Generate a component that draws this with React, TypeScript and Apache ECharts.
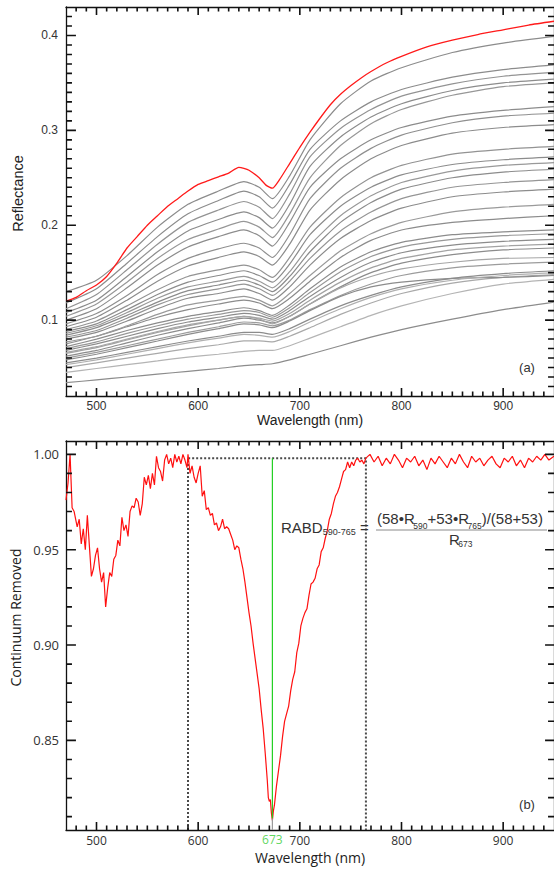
import React, { useEffect, useRef } from "react";
import * as echarts from "echarts";

// ---------- Panel (a): reflectance spectra ----------
const WAVELENGTHS = [470, 500, 530, 560, 590, 620, 645, 660, 673, 690, 710, 740, 770, 800, 850, 900, 950];

const RED_WAVELENGTHS = [470, 480, 490, 500, 510, 520, 530, 540, 550, 560, 570, 580, 590, 600, 610, 620, 630, 640, 645, 650, 660, 667, 673, 680, 690, 700, 710, 720, 730, 740, 750, 760, 770, 785, 800, 825, 850, 875, 900, 925, 950];
const RED_SPECTRUM = [0.120, 0.124, 0.131, 0.137, 0.146, 0.160, 0.176, 0.188, 0.200, 0.210, 0.220, 0.228, 0.236, 0.243, 0.247, 0.251, 0.255, 0.261, 0.260, 0.258, 0.250, 0.242, 0.239, 0.248, 0.265, 0.282, 0.298, 0.313, 0.327, 0.338, 0.347, 0.355, 0.362, 0.371, 0.378, 0.388, 0.395, 0.401, 0.406, 0.411, 0.415];

const UPPER_SPECTRA = [
  [0.130, 0.142, 0.168, 0.198, 0.222, 0.236, 0.246, 0.240, 0.228, 0.252, 0.290, 0.328, 0.352, 0.366, 0.382, 0.392, 0.399],
  [0.118, 0.133, 0.160, 0.188, 0.212, 0.226, 0.236, 0.230, 0.218, 0.243, 0.280, 0.310, 0.330, 0.343, 0.356, 0.364, 0.369],
  [0.112, 0.127, 0.153, 0.180, 0.203, 0.216, 0.225, 0.219, 0.207, 0.233, 0.272, 0.302, 0.322, 0.336, 0.349, 0.357, 0.361],
  [0.108, 0.121, 0.146, 0.172, 0.194, 0.206, 0.214, 0.208, 0.197, 0.222, 0.262, 0.293, 0.314, 0.328, 0.342, 0.350, 0.354],
  [0.104, 0.117, 0.140, 0.165, 0.185, 0.196, 0.204, 0.198, 0.187, 0.212, 0.250, 0.284, 0.307, 0.322, 0.337, 0.346, 0.350],
  [0.100, 0.112, 0.134, 0.158, 0.177, 0.188, 0.195, 0.189, 0.178, 0.203, 0.240, 0.270, 0.290, 0.303, 0.315, 0.321, 0.325],
  [0.096, 0.107, 0.126, 0.148, 0.165, 0.175, 0.181, 0.176, 0.166, 0.190, 0.228, 0.260, 0.281, 0.295, 0.308, 0.315, 0.318],
  [0.093, 0.103, 0.121, 0.141, 0.157, 0.166, 0.172, 0.167, 0.158, 0.180, 0.216, 0.248, 0.270, 0.284, 0.297, 0.303, 0.306],
  [0.090, 0.099, 0.115, 0.132, 0.146, 0.153, 0.158, 0.153, 0.145, 0.166, 0.198, 0.229, 0.250, 0.263, 0.275, 0.280, 0.283],
  [0.088, 0.096, 0.111, 0.127, 0.140, 0.147, 0.152, 0.147, 0.140, 0.159, 0.190, 0.220, 0.240, 0.253, 0.264, 0.269, 0.272],
  [0.086, 0.094, 0.108, 0.123, 0.135, 0.141, 0.146, 0.141, 0.134, 0.151, 0.179, 0.210, 0.231, 0.245, 0.257, 0.263, 0.266],
  [0.084, 0.092, 0.105, 0.119, 0.131, 0.137, 0.142, 0.137, 0.130, 0.146, 0.172, 0.203, 0.224, 0.238, 0.250, 0.256, 0.259],
  [0.082, 0.089, 0.102, 0.116, 0.127, 0.133, 0.138, 0.133, 0.126, 0.141, 0.165, 0.194, 0.214, 0.228, 0.240, 0.245, 0.248],
  [0.080, 0.087, 0.099, 0.112, 0.123, 0.128, 0.133, 0.128, 0.121, 0.135, 0.158, 0.186, 0.205, 0.218, 0.230, 0.235, 0.238],
  [0.077, 0.083, 0.094, 0.106, 0.116, 0.121, 0.125, 0.121, 0.115, 0.128, 0.147, 0.173, 0.191, 0.203, 0.214, 0.219, 0.222],
];

const LOWER_SPECTRA = [
  [0.034, 0.037, 0.040, 0.043, 0.046, 0.049, 0.052, 0.053, 0.054, 0.058, 0.064, 0.073, 0.082, 0.090, 0.101, 0.111, 0.119],
  [0.045, 0.049, 0.053, 0.057, 0.061, 0.064, 0.067, 0.068, 0.068, 0.073, 0.081, 0.093, 0.105, 0.115, 0.128, 0.138, 0.143],
  [0.050, 0.055, 0.060, 0.065, 0.070, 0.074, 0.078, 0.078, 0.077, 0.083, 0.092, 0.106, 0.118, 0.128, 0.139, 0.145, 0.148],
  [0.055, 0.060, 0.066, 0.072, 0.078, 0.083, 0.087, 0.087, 0.085, 0.091, 0.101, 0.115, 0.126, 0.135, 0.144, 0.149, 0.152],
  [0.060, 0.066, 0.073, 0.080, 0.087, 0.093, 0.098, 0.097, 0.094, 0.100, 0.111, 0.126, 0.138, 0.147, 0.155, 0.159, 0.161],
  [0.062, 0.068, 0.076, 0.084, 0.091, 0.097, 0.102, 0.100, 0.097, 0.104, 0.117, 0.135, 0.150, 0.160, 0.169, 0.174, 0.176],
  [0.065, 0.071, 0.079, 0.087, 0.094, 0.100, 0.104, 0.102, 0.099, 0.107, 0.121, 0.140, 0.155, 0.165, 0.174, 0.178, 0.180],
  [0.068, 0.075, 0.083, 0.091, 0.098, 0.103, 0.107, 0.105, 0.101, 0.110, 0.125, 0.145, 0.161, 0.171, 0.179, 0.183, 0.185],
  [0.070, 0.077, 0.086, 0.094, 0.101, 0.106, 0.110, 0.108, 0.103, 0.113, 0.129, 0.151, 0.167, 0.177, 0.185, 0.189, 0.191],
  [0.072, 0.080, 0.089, 0.097, 0.104, 0.109, 0.113, 0.110, 0.105, 0.116, 0.133, 0.156, 0.172, 0.182, 0.190, 0.193, 0.195],
  [0.058, 0.064, 0.071, 0.078, 0.085, 0.091, 0.096, 0.095, 0.092, 0.099, 0.110, 0.125, 0.135, 0.140, 0.144, 0.145, 0.147],
  [0.075, 0.083, 0.093, 0.103, 0.111, 0.117, 0.121, 0.118, 0.112, 0.123, 0.141, 0.166, 0.184, 0.195, 0.203, 0.207, 0.210],
  [0.066, 0.072, 0.080, 0.088, 0.095, 0.100, 0.104, 0.101, 0.096, 0.104, 0.117, 0.134, 0.146, 0.154, 0.161, 0.165, 0.166],
  [0.053, 0.058, 0.064, 0.070, 0.076, 0.081, 0.085, 0.084, 0.082, 0.088, 0.098, 0.112, 0.124, 0.133, 0.142, 0.147, 0.150],
];

const UPPER_SHADES = ["#8c8c8c", "#8c8c8c", "#939393", "#8c8c8c", "#979797", "#8c8c8c", "#8f8f8f", "#8c8c8c", "#939393", "#8c8c8c", "#999999", "#8c8c8c", "#959595", "#8c8c8c", "#9a9a9a"];
const LOWER_SHADES = ["#8c8c8c", "#b4b4b4", "#a9a9a9", "#8c8c8c", "#9c9c9c", "#8c8c8c", "#a3a3a3", "#8c8c8c", "#989898", "#8c8c8c", "#8c8c8c", "#8c8c8c", "#a6a6a6", "#b0b0b0"];

// ---------- Panel (b): continuum removed ----------
const CR_WAVELENGTHS = [
  470, 472, 474, 476, 478, 481, 483, 485, 487, 489, 491, 493, 495, 497, 499, 501, 503, 505, 507, 509,
  511, 513, 515, 517, 519, 521, 523, 525, 527, 529, 531, 533, 535, 537, 539, 541, 543, 545, 547, 549,
  551, 553, 555, 557, 559, 561, 563, 565, 567, 569, 571, 573, 575, 577, 579, 581, 583, 585, 587, 589,
  590, 592, 594, 596, 598, 600, 602, 604, 606, 608, 610, 612, 614, 616, 618, 620, 622, 624, 626, 628,
  630, 632, 634, 636, 638, 640, 642, 644, 646, 648, 650, 652, 654, 656, 658, 660, 662, 664, 666, 668,
  669, 670, 671, 672, 673, 674, 675, 677, 679, 681, 683, 685, 687, 689, 691, 693, 695, 697, 699, 701,
  703, 705, 707, 709, 711, 713, 715, 717, 719, 721, 723, 725, 727, 729, 731, 733, 735, 737, 739, 741,
  743, 745, 747, 749, 751, 753, 755, 757, 759, 761, 763, 765, 769, 773, 777, 781, 785, 789, 793, 797,
  801, 805, 809, 813, 817, 821, 825, 829, 833, 837, 841, 845, 849, 853, 857, 861, 865, 869, 873, 877,
  881, 885, 889, 893, 897, 901, 905, 909, 913, 917, 921, 925, 929, 933, 937, 941, 945, 950,
];
const CR_VALUES = [
  0.976, 0.985, 1.000, 0.972, 0.970, 0.962, 0.966, 0.953, 0.961, 0.950, 0.968, 0.952, 0.936, 0.940, 0.947, 0.951, 0.940, 0.933, 0.938, 0.920,
  0.930, 0.938, 0.936, 0.945, 0.947, 0.955, 0.952, 0.967, 0.960, 0.963, 0.957, 0.970, 0.973, 0.972, 0.977, 0.975, 0.968, 0.974, 0.988, 0.984,
  0.989, 0.982, 0.990, 0.984, 0.999, 0.993, 0.991, 0.986, 0.997, 1.000, 0.995, 0.998, 0.993, 1.000, 0.996, 0.999, 0.995, 1.000, 0.997, 0.993,
  1.000, 0.990, 0.994, 0.988, 0.985, 0.990, 0.994, 0.978, 0.981, 0.971, 0.972, 0.968, 0.969, 0.963, 0.964, 0.960, 0.962, 0.966, 0.961, 0.962,
  0.961, 0.958, 0.955, 0.950, 0.952, 0.951, 0.945, 0.940, 0.933, 0.925, 0.917, 0.910, 0.901, 0.893, 0.885, 0.877, 0.866, 0.856, 0.843, 0.829,
  0.820, 0.818, 0.819, 0.812, 0.808, 0.813, 0.816, 0.826, 0.834, 0.842, 0.852, 0.860, 0.864, 0.868, 0.876, 0.882, 0.886, 0.896, 0.901, 0.910,
  0.914, 0.917, 0.919, 0.926, 0.932, 0.933, 0.935, 0.940, 0.942, 0.949, 0.951, 0.956, 0.960, 0.966, 0.969, 0.974, 0.978, 0.980, 0.983, 0.987,
  0.991, 0.992, 0.996, 0.993, 0.996, 0.994, 0.997, 0.998, 0.996, 0.997, 0.995, 0.998, 1.000, 0.996, 0.999, 0.994, 0.998, 0.995, 1.000, 0.997,
  0.993, 0.998, 0.996, 0.999, 0.994, 0.997, 0.992, 0.998, 0.995, 0.999, 0.996, 0.993, 0.998, 0.995, 1.000, 0.996, 0.993, 0.999, 0.996, 0.998,
  0.994, 0.997, 0.999, 0.995, 0.993, 0.998, 0.996, 0.999, 0.994, 0.997, 0.993, 0.998, 0.996, 0.999, 0.997, 1.000, 0.997, 0.999,
];

const BAND_LEFT = 590;
const BAND_CENTER = 673;
const BAND_RIGHT = 765;
const CONTINUUM_LEVEL = 0.998;
const BAND_DEPTH_VALUE = 0.809;

// ---------- Axes / ticks ----------
const X_MIN = 470;
const X_MAX = 950;
const X_MAJOR = [500, 600, 700, 800, 900];
const X_MINOR = [480, 490, 510, 520, 530, 540, 550, 560, 570, 580, 590, 610, 620, 630, 640, 650, 660, 670, 680, 690, 710, 720, 730, 740, 750, 760, 770, 780, 790, 810, 820, 830, 840, 850, 860, 870, 880, 890, 910, 920, 930, 940];
const TOP_Y_MIN = 0.02;
const TOP_Y_MAX = 0.43;
const TOP_Y_MAJOR = [0.1, 0.2, 0.3, 0.4];
const TOP_Y_MINOR = [0.03, 0.04, 0.05, 0.06, 0.07, 0.08, 0.09, 0.11, 0.12, 0.13, 0.14, 0.15, 0.16, 0.17, 0.18, 0.19, 0.21, 0.22, 0.23, 0.24, 0.25, 0.26, 0.27, 0.28, 0.29, 0.31, 0.32, 0.33, 0.34, 0.35, 0.36, 0.37, 0.38, 0.39, 0.41, 0.42];
const BOT_Y_MIN = 0.803;
const BOT_Y_MAX = 1.007;
const BOT_Y_MAJOR = [0.85, 0.9, 0.95, 1.0];
const BOT_Y_MINOR = [0.81, 0.82, 0.83, 0.84, 0.86, 0.87, 0.88, 0.89, 0.91, 0.92, 0.93, 0.94, 0.96, 0.97, 0.98, 0.99];

const AXIS_COLOR = "#111111";
const FONT_A = "Liberation Sans, Arial, sans-serif";
const FONT_B = "Open Sans, sans-serif";

// grid boxes (layout only)
const GRID_LEFT = 66;
const GRID_RIGHT = -3;
const GRID_TOPS = [7, 441];
const GRID_HEIGHT = 389;
const CHART_W = 554;
const GRID_WIDTH = CHART_W - GRID_LEFT - GRID_RIGHT;

function baseAxis(gridIndex: number, position: string, min: number, max: number): any {
  return {
    type: "value",
    gridIndex,
    position,
    min,
    max,
    axisLine: { show: true, onZero: false, lineStyle: { color: AXIS_COLOR, width: 1.3 } },
    axisTick: { show: false },
    axisLabel: { show: false },
    splitLine: { show: false },
  };
}

function measure(text: string, size: number, family: string): number {
  const ctx = document.createElement("canvas").getContext("2d");
  if (!ctx) return text.length * size * 0.55;
  ctx.font = `${size}px ${family}`;
  return ctx.measureText(text).width;
}

// tick segments (in data units) for one grid, separated by gaps
function tickSegments(yMin: number, yMax: number, yMajor: number[], yMinor: number[]): any[] {
  const dy = (yMax - yMin) / GRID_HEIGHT; // data units per px
  const dx = (X_MAX - X_MIN) / GRID_WIDTH;
  const out: any[] = [];
  const xs: [number, number][] = [...X_MAJOR.map((v) => [v, 8] as [number, number]), ...X_MINOR.map((v) => [v, 4.5] as [number, number])];
  xs.forEach(([v, len]) => {
    out.push([v, yMin], [v, yMin + len * dy], "-");
    out.push([v, yMax], [v, yMax - len * dy], "-");
  });
  const ys: [number, number, number][] = [
    ...yMajor.map((v) => [v, 10, 9] as [number, number, number]),
    ...yMinor.map((v) => [v, 6, 6] as [number, number, number]),
  ];
  ys.forEach(([v, lenL, lenR]) => {
    out.push([X_MIN, v], [X_MIN + lenL * dx, v], "-");
    out.push([X_MAX, v], [X_MAX - lenR * dx, v], "-");
  });
  return out;
}

export default function App() {
  const ref = useRef<HTMLDivElement>(null);

  useEffect(() => {
    if (!ref.current) return;
    const chart = echarts.init(ref.current, undefined, { renderer: "svg" });

    const xAxis: any[] = [
      {
        ...baseAxis(0, "bottom", X_MIN, X_MAX),
        axisLabel: { show: true, customValues: X_MAJOR, margin: 4, color: "#333", fontFamily: FONT_A, fontSize: 12 },
        name: "Wavelength (nm)",
        nameLocation: "middle",
        nameGap: 15,
        nameTextStyle: { color: "#222", fontFamily: FONT_A, fontSize: 14 },
      },
      baseAxis(0, "top", X_MIN, X_MAX),
      {
        ...baseAxis(1, "bottom", X_MIN, X_MAX),
        axisLabel: { show: true, customValues: X_MAJOR, margin: 4, color: "#333", fontFamily: FONT_B, fontSize: 12 },
        name: "Wavelength (nm)",
        nameLocation: "middle",
        nameGap: 20,
        nameTextStyle: { color: "#222", fontFamily: FONT_B, fontSize: 14 },
      },
      baseAxis(1, "top", X_MIN, X_MAX),
    ];

    const yAxis: any[] = [
      {
        ...baseAxis(0, "left", TOP_Y_MIN, TOP_Y_MAX),
        axisLabel: { show: true, customValues: TOP_Y_MAJOR, margin: 8, color: "#333", fontFamily: FONT_A, fontSize: 12, formatter: (v: number) => v.toFixed(1) },
        name: "Reflectance",
        nameLocation: "middle",
        nameGap: 41,
        nameTextStyle: { color: "#222", fontFamily: FONT_A, fontSize: 14.5, padding: [0, 0, 0, 16] },
      },
      baseAxis(0, "right", TOP_Y_MIN, TOP_Y_MAX),
      {
        ...baseAxis(1, "left", BOT_Y_MIN, BOT_Y_MAX),
        axisLabel: { show: true, customValues: BOT_Y_MAJOR, margin: 7, color: "#333", fontFamily: FONT_B, fontSize: 13, formatter: (v: number) => v.toFixed(2) },
        name: "Continuum Removed",
        nameLocation: "middle",
        nameGap: 39,
        nameTextStyle: { color: "#222", fontFamily: FONT_B, fontSize: 14, padding: [0, 0, 0, 36] },
      },
      baseAxis(1, "right", BOT_Y_MIN, BOT_Y_MAX),
    ];

    const spectrumSeries = (xs: number[], values: number[], color: string, width: number, z: number) => ({
      type: "line",
      xAxisIndex: 0,
      yAxisIndex: 0,
      showSymbol: false,
      symbol: "none",
      smooth: 0.2,
      z,
      lineStyle: { color, width },
      data: xs.map((w, i) => [w, values[i]]),
    });

    const tickSeries = (axisIndex: number, data: any[]) => ({
      type: "line",
      xAxisIndex: axisIndex,
      yAxisIndex: axisIndex,
      symbol: "none",
      showSymbol: false,
      connectNulls: false,
      clip: false,
      silent: true,
      z: 10,
      lineStyle: { color: AXIS_COLOR, width: 1.6, cap: "butt" },
      data,
    });

    const series: any[] = [
      ...LOWER_SPECTRA.map((s, i) => spectrumSeries(WAVELENGTHS, s, LOWER_SHADES[i], 1.2, 2)),
      ...UPPER_SPECTRA.map((s, i) => spectrumSeries(WAVELENGTHS, s, UPPER_SHADES[i], 1.2, 2)),
      spectrumSeries(RED_WAVELENGTHS, RED_SPECTRUM, "#ff1a1a", 1.3, 3),
      tickSeries(0, tickSegments(TOP_Y_MIN, TOP_Y_MAX, TOP_Y_MAJOR, TOP_Y_MINOR)),
      {
        type: "line",
        xAxisIndex: 2,
        yAxisIndex: 2,
        symbol: "none",
        z: 2,
        lineStyle: { color: "#4a4a4a", width: 2, type: [2, 2] },
        data: [
          [BAND_LEFT, BOT_Y_MIN],
          [BAND_LEFT, CONTINUUM_LEVEL],
          [BAND_RIGHT, CONTINUUM_LEVEL],
          [BAND_RIGHT, BOT_Y_MIN],
        ],
      },
      {
        type: "line",
        xAxisIndex: 2,
        yAxisIndex: 2,
        symbol: "none",
        z: 3,
        lineStyle: { color: "#ff1010", width: 1.2 },
        data: CR_WAVELENGTHS.map((w, i) => [w, CR_VALUES[i]]),
      },
      {
        type: "line",
        xAxisIndex: 2,
        yAxisIndex: 2,
        symbol: "none",
        z: 4,
        lineStyle: { color: "#22d022", width: 1.2 },
        data: [
          [BAND_CENTER, CONTINUUM_LEVEL],
          [BAND_CENTER, BAND_DEPTH_VALUE],
        ],
      },
      {
        type: "line",
        xAxisIndex: 2,
        yAxisIndex: 2,
        symbol: "none",
        z: 4,
        lineStyle: { color: "#9a9a9a", width: 1.2 },
        data: [
          [BAND_CENTER, BAND_DEPTH_VALUE],
          [BAND_CENTER, BOT_Y_MIN],
        ],
      },
      {
        type: "scatter",
        xAxisIndex: 2,
        yAxisIndex: 2,
        symbolSize: 1,
        itemStyle: { color: "rgba(0,0,0,0)" },
        silent: true,
        label: {
          show: true,
          position: "bottom",
          distance: 3,
          formatter: String(BAND_CENTER),
          color: "#33cc33",
          fontFamily: FONT_B,
          fontSize: 12,
        },
        data: [[BAND_CENTER, BOT_Y_MIN]],
      },
      tickSeries(2, tickSegments(BOT_Y_MIN, BOT_Y_MAX, BOT_Y_MAJOR, BOT_Y_MINOR)),
    ];

    // ---------- annotations ----------
    const txt = (text: string, x: number, y: number, size: number, align = "left", font = FONT_A) => ({
      type: "text",
      x,
      y,
      z: 100,
      silent: true,
      style: {
        text,
        fontSize: size,
        fontFamily: font,
        fill: "#333",
        textAlign: align,
        textVerticalAlign: "middle",
        align,
        verticalAlign: "middle",
      },
    });

    const flow = (x0: number, pieces: [string, number, number][]) => {
      let x = x0;
      return pieces.map(([t, s, y]) => {
        const el = txt(t, x, y, s);
        x += measure(t, s, FONT_A) - (t.endsWith("R") ? 1.5 : 0);
        return el;
      });
    };

    const graphic: any[] = [
      txt("(a)", 527, 367.5, 13, "center"),
      txt("(b)", 527, 804, 13, "center"),
      ...flow(281, [
        ["RABD", 15, 527.5],
        ["590-765", 9, 532],
      ]),
      txt("=", 360, 527.5, 15),
      ...flow(377, [
        ["(58•R", 15, 518.5],
        ["590", 8.5, 526],
        ["+53•R", 15, 518.5],
        ["765", 8.5, 526],
        [")/(58+53)", 15, 518.5],
      ]),
      {
        type: "line",
        z: 100,
        silent: true,
        shape: { x1: 376, y1: 530, x2: 547, y2: 530 },
        style: { stroke: "#8a8a8a", lineWidth: 1 },
      },
      ...flow(449, [
        ["R", 15, 539.5],
        ["673", 8.5, 544],
      ]),
    ];

    chart.setOption({
      animation: false,
      textStyle: { fontFamily: FONT_A },
      grid: GRID_TOPS.map((top) => ({ left: GRID_LEFT, right: GRID_RIGHT, top, height: GRID_HEIGHT })),
      xAxis,
      yAxis,
      series,
      graphic,
    });

    return () => chart.dispose();
  }, []);

  return (
    <div
      ref={ref}
      style={{ position: "absolute", left: 0, top: 0, width: 554, height: 872, background: "#fff" }}
    />
  );
}
